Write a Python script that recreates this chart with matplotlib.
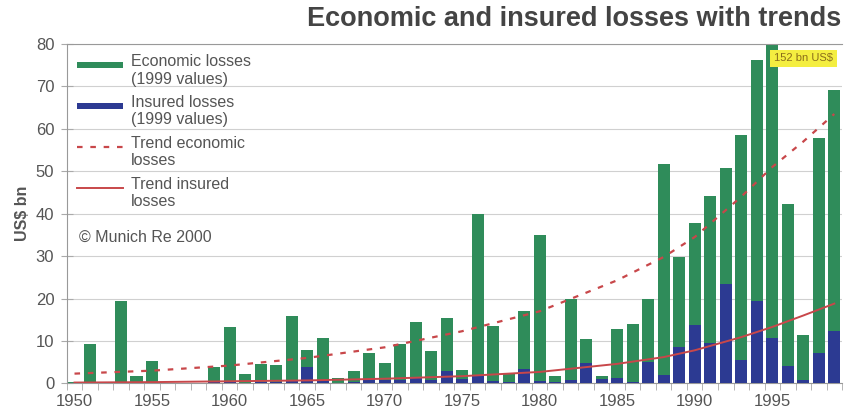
import numpy as np
import matplotlib as mpl
mpl.use('Agg')
from matplotlib import pyplot as plt
from matplotlib.ticker import MultipleLocator, FixedLocator
from matplotlib.patches import Rectangle
from matplotlib.legend_handler import HandlerPatch, HandlerLine2D

plt.rcParams['font.family'] = ['Liberation Sans', 'DejaVu Sans']

# Data (US$ bn, 1999 values) --------------------------------------------------
years = np.arange(1950, 2000)
economic = [0.3, 9.4, 0.0, 19.5, 1.8, 5.3, 0.0, 0.0, 0.0, 3.8,
            13.3, 2.3, 4.6, 4.4, 16.0, 7.8, 10.7, 1.3, 2.9, 7.2,
            4.9, 9.4, 14.5, 7.6, 15.4, 3.1, 39.9, 13.5, 2.3, 17.0,
            34.9, 1.7, 19.8, 10.5, 1.7, 12.9, 13.9, 20.0, 51.7, 29.8,
            37.7, 44.2, 50.8, 58.6, 76.3, 152.0, 42.4, 11.3, 57.9, 69.2]
insured = [0.0, 0.2, 0.0, 0.3, 0.1, 0.2, 0.0, 0.0, 0.0, 0.3,
           0.4, 0.2, 0.3, 0.3, 0.6, 3.8, 0.6, 0.2, 0.3, 1.0,
           0.8, 0.9, 1.6, 0.9, 2.9, 1.0, 1.9, 0.5, 0.3, 3.5,
           0.5, 0.4, 0.7, 4.8, 1.0, 1.3, 0.3, 5.0, 1.9, 8.6,
           13.8, 9.6, 23.5, 5.6, 19.4, 10.6, 4.1, 0.7, 7.2, 12.3]

trend_years = [1950, 1955, 1960, 1965, 1970, 1975, 1980, 1985, 1988, 1990,
               1993, 1995, 1997, 1999]
trend_econ = [2.3, 3.0, 4.2, 6.0, 8.5, 12.3, 17.0, 24.3, 29.8, 34.5,
              44.0, 51.0, 57.0, 63.5]
trend_ins = [0.2, 0.3, 0.5, 0.7, 1.1, 1.7, 2.7, 4.6, 6.2, 7.8,
             10.9, 13.3, 16.0, 18.8]

green = '#2f8c5a'
blue = '#2c3a92'
red = '#c8474a'
grey = '#555555'


# legend handles sitting on the first line of a two-line label
def top_patch(legend, orig_handle, xdescent, ydescent, width, height, fontsize):
    return Rectangle((-xdescent, height * 0.63 - ydescent), width, height * 0.24)


class TopLine(HandlerLine2D):
    def create_artists(self, legend, orig_handle, xdescent, ydescent,
                       width, height, fontsize, trans):
        arts = super().create_artists(legend, orig_handle, xdescent, ydescent,
                                      width, height, fontsize, trans)
        for a in arts:
            a.set_ydata(np.full_like(a.get_xdata(), height * 0.75 - ydescent))
        return arts


# Figure ----------------------------------------------------------------------
fig = plt.figure(figsize=(8.45, 4.19), dpi=100)
ax = fig.add_axes([0.079, 0.085, 0.9175, 0.81])

b1 = ax.bar(years, economic, width=0.78, color=green, zorder=2)
b2 = ax.bar(years, insured, width=0.78, color=blue, zorder=3)
l1, = ax.plot(trend_years, trend_econ, color=red, lw=1.6, ls=(0, (2.5, 3.5)), zorder=4)
l2, = ax.plot(trend_years, trend_ins, color=red, lw=1.4, zorder=4)

ax.set_xlim(1949.5, 1999.5)
ax.set_ylim(0, 80)
ax.yaxis.set_major_locator(MultipleLocator(10))
ax.xaxis.set_major_locator(FixedLocator(np.arange(1950, 2000, 5)))
ax.xaxis.set_minor_locator(FixedLocator(np.arange(1949.5, 2000, 1)))
ax.tick_params(axis='x', which='major', length=0, pad=8, labelsize=12, labelcolor=grey)
ax.tick_params(axis='x', which='minor', length=5, direction='out', color='#aaaaaa')
ax.tick_params(axis='y', length=8, direction='inout', labelsize=12, labelcolor=grey,
               color='#aaaaaa', pad=5)
ax.grid(axis='y', color='#d0d0d0', lw=0.8, zorder=0)

for side in ['left', 'top', 'bottom', 'right']:
    ax.spines[side].set_color('#999999')
ax.spines['right'].set_visible(False)

ax.set_ylabel('US$ bn', fontsize=11.5, fontweight='bold', color=grey, labelpad=4)

h1, h2 = b1.patches[0], b2.patches[0]
leg = ax.legend([h1, h2, l1, l2],
                ['Economic losses\n(1999 values)', 'Insured losses\n(1999 values)',
                 'Trend economic\nlosses', 'Trend insured\nlosses'],
                handler_map={h1: HandlerPatch(patch_func=top_patch),
                             h2: HandlerPatch(patch_func=top_patch),
                             l1: TopLine(), l2: TopLine()},
                loc='upper left', frameon=False, fontsize=11.5, handlelength=2.9,
                handleheight=2.2, labelspacing=0.55, borderaxespad=0.25,
                handletextpad=0.45, labelcolor=grey)
for t in leg.get_texts():
    t.set_linespacing(1.18)

ax.text(0.016, 0.43, '\u00a9 Munich Re 2000', transform=ax.transAxes,
        fontsize=11.5, color=grey, va='center')

ax.text(1995.1, 76.6, '152 bn US$', fontsize=8, color='#8a6d1a', va='center',
        bbox=dict(boxstyle='square,pad=0.35', fc='#f4ee40', ec='none'), zorder=6)

fig.text(0.996, 0.955, 'Economic and insured losses with trends', ha='right',
         va='center', fontsize=19.5, fontweight='bold', color='#444444')

fig.savefig('out.png', dpi=100, facecolor='white')
